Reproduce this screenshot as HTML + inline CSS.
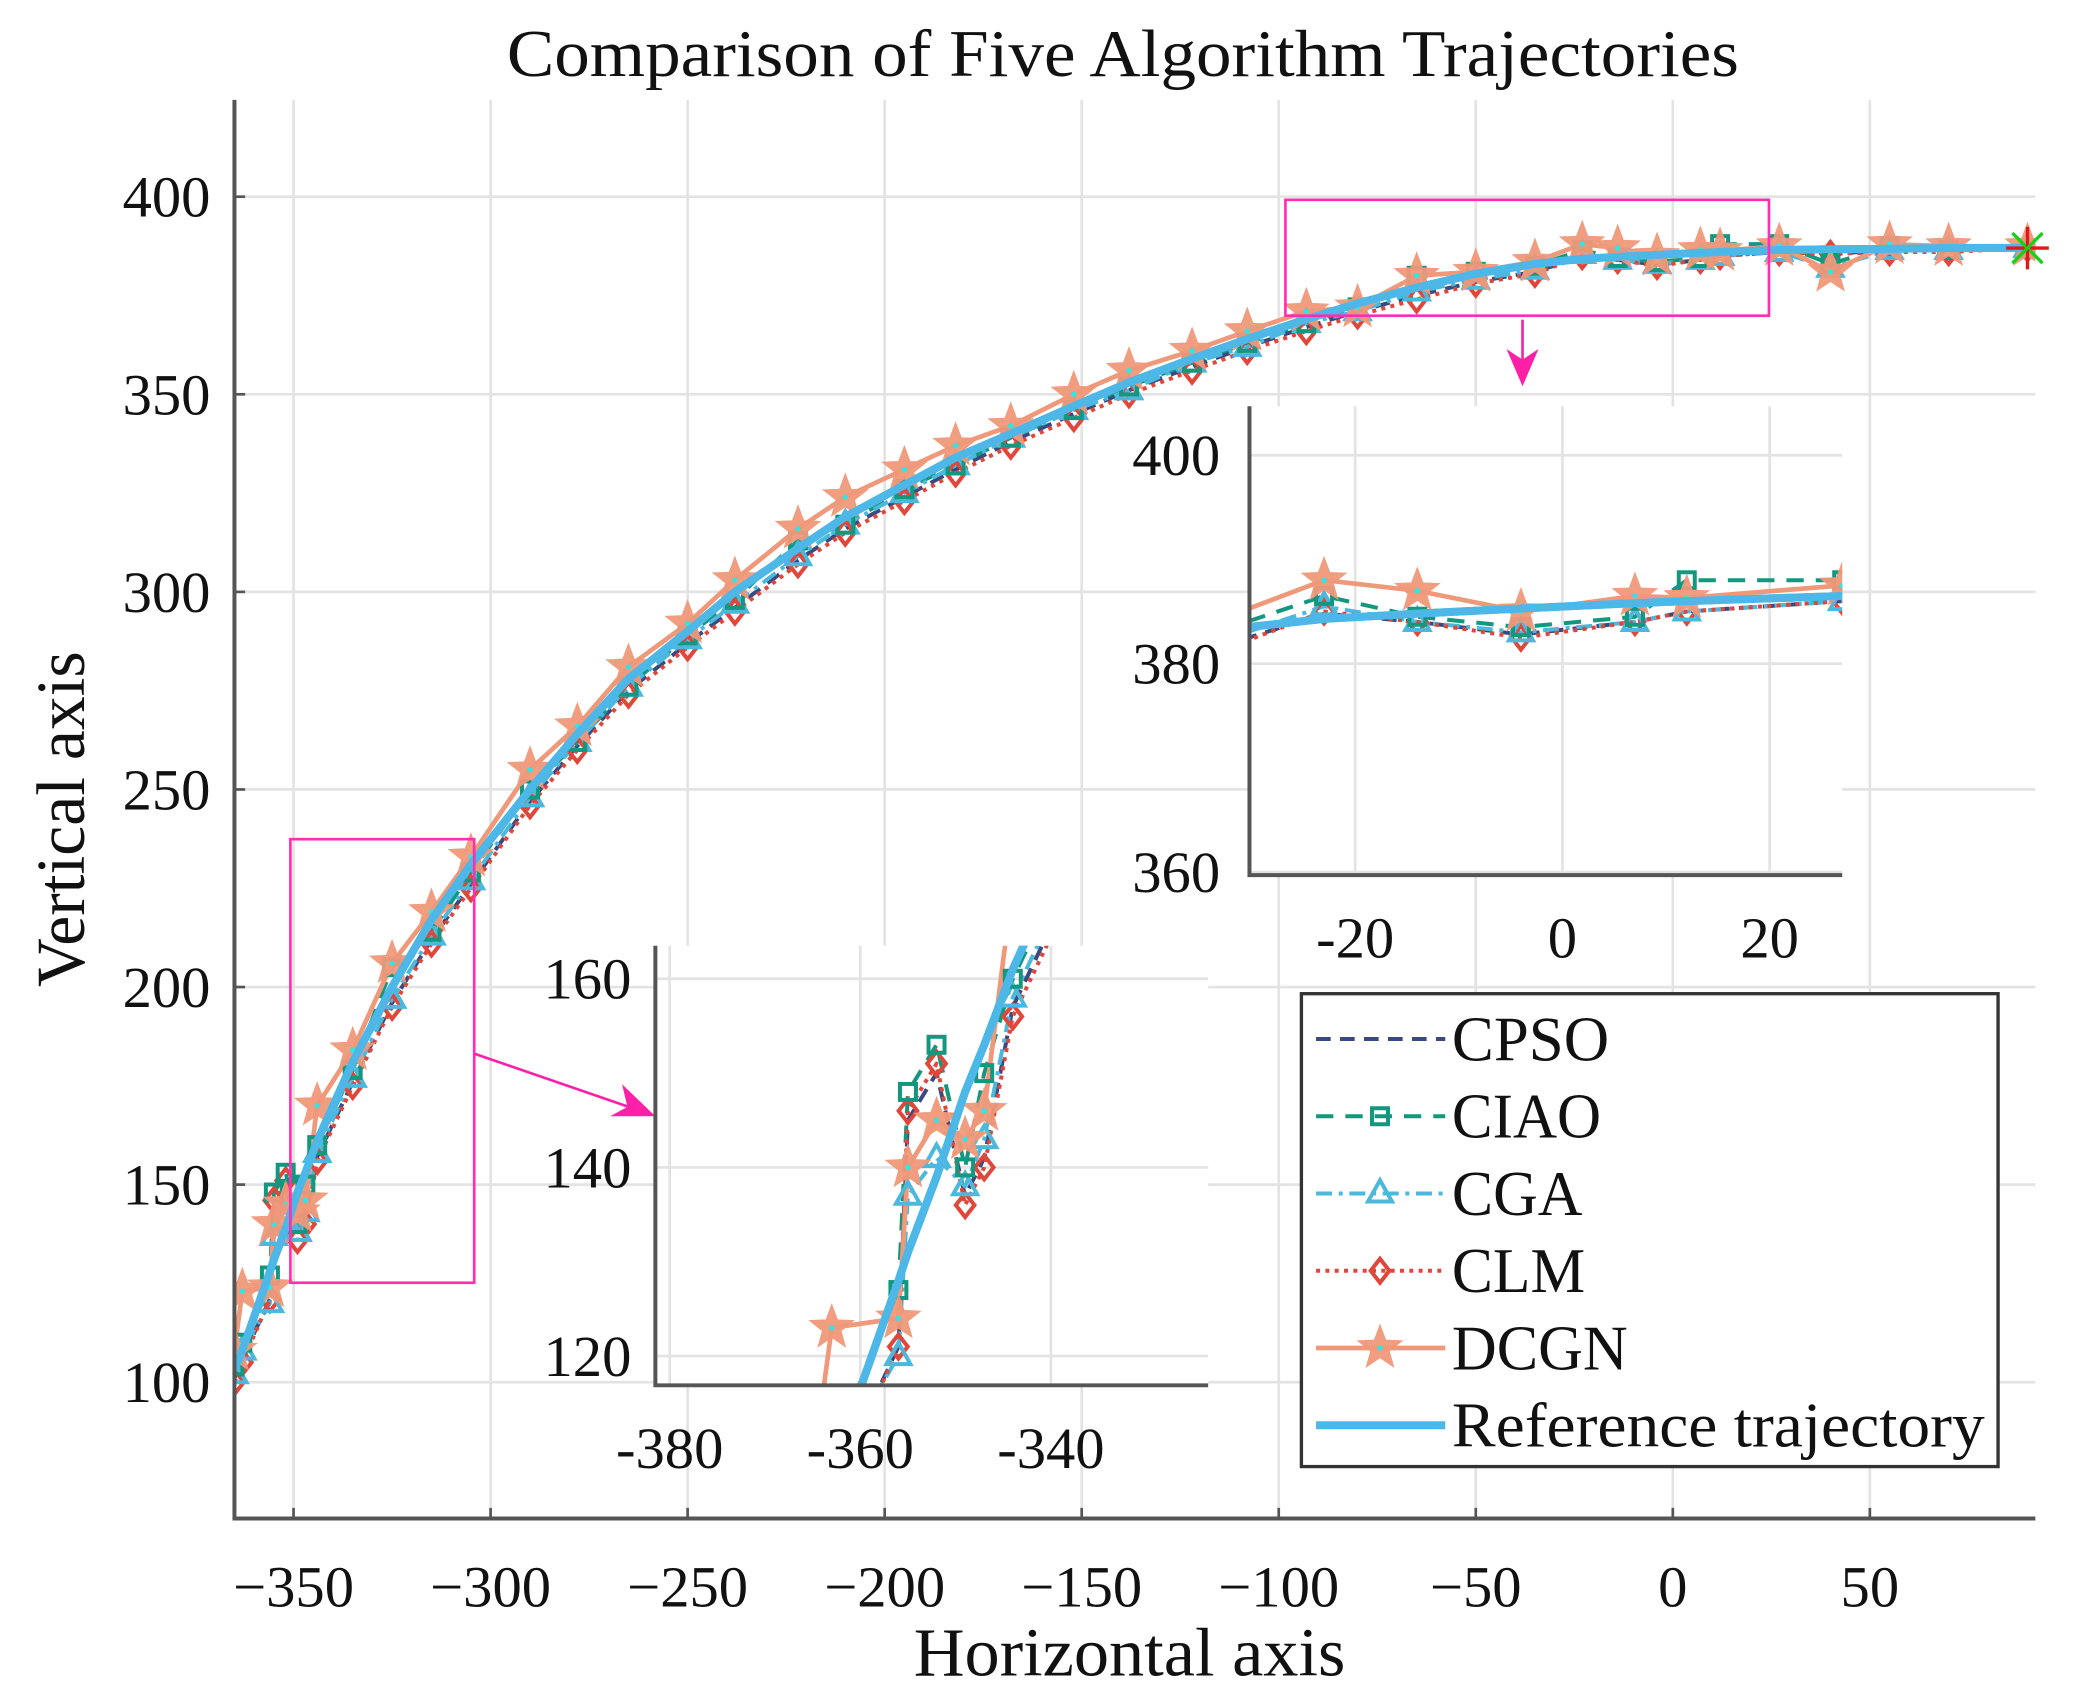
<!DOCTYPE html>
<html><head><meta charset="utf-8"><style>
html,body{margin:0;padding:0;background:#fff;overflow:hidden;width:2078px;height:1707px}
svg{display:block}
text{font-family:"Liberation Serif",serif;fill:#111}
</style></head><body>
<svg id="chart" width="2078" height="1707" viewBox="0 0 1560 1281.5" xmlns="http://www.w3.org/2000/svg">
<defs>
<clipPath id="clipMain"><rect x="176" y="75" width="1352" height="1065"/></clipPath>
<clipPath id="clipIn1"><rect x="938" y="305" width="445" height="352"/></clipPath>
<clipPath id="clipIn2"><rect x="492" y="710" width="415" height="330"/></clipPath>
</defs>
<text x="843" y="57" font-size="50" text-anchor="middle" textLength="925" lengthAdjust="spacingAndGlyphs">Comparison of Five Algorithm Trajectories</text>
<text x="848" y="1258" font-size="52" text-anchor="middle" textLength="324" lengthAdjust="spacingAndGlyphs">Horizontal axis</text>
<text x="63" y="615" font-size="52" text-anchor="middle" textLength="252" lengthAdjust="spacingAndGlyphs" transform="rotate(-90 63 615)">Vertical axis</text>
<g id="root"></g>
</svg>
<script>
const xs = [-365,-363,-356,-355,-352,-349,-347,-344,-335,-325,-315,-305,-290,-278,-265,-250,-238,-222,-210,-195,-182,-168,-152,-138,-122,-108,-93,-80,-65,-50,-35,-23,-14,-4,7,12,27,40,55,70,90];
const refY = [103,108,128,131,139,148,153,161,181,200,217,231,250,264,278,290,300,311,319,327,334,340,347,353,359,364,369,373,377,380.5,383,384.3,384.8,385.3,385.8,386,386.5,386.7,386.8,387,387];
const cpsoY = [101,106,121,145,150,137,141,157,176,196,212,226,247,261,275,287,296,308,316,324,331,338,345,351,357,362,367,371,375,378.5,381,384.8,384,382.8,384,385,386,385.5,386.5,386.5,387];
const ciaoY = [104,110,127,148,153,140,150,160,179,205,214,229,250,262,276,289,298,313,317,326,332,339,346,352,358,363,368,372,380,381,382.5,386.5,384.5,383.5,384.5,388,388,383,387.5,386.5,387];
const cgaY = [102,108,120,137,141,138,143,158,177,197,213,227,248,262,276,288,297,309,317,325,332,339,346,351,358,362,368,371,376,379,381.5,385.5,384,383,384,385,386,382,386.5,386.5,387];
const clmY = [100,105,121,146,151,136,140,156,175,195,211,225,246,260,274,286,295,307,315,323,330,337,344,350,356,361,366,370,374,378,380.5,385,384,382.5,384,385,386,385.5,386,386,387];
const dcgnY = [108,123,124,140,145,143,146,170,184,206,219,233,255,266,281,292,303,316,324,331,337,342,350,356,361,366,371,372,380,381,383.5,388,387,385,386.5,386.3,387.5,381,388,387.5,387.5];
const xTicks = [-350,-300,-250,-200,-150,-100,-50,0,50];
const yTicks = [100,150,200,250,300,350,400];
const in1XTicks = [-20,0,20];
const in1YTicks = [360,380,400];
const in2XTicks = [-380,-360,-340];
const in2YTicks = [120,140,160];
const seriesNames = ["CPSO","CIAO","CGA","CLM","DCGN","Reference trajectory"];

const NS="http://www.w3.org/2000/svg";
const root=document.getElementById('root');
function mk(tag,attrs,parent){const e=document.createElementNS(NS,tag);for(const k in attrs)e.setAttribute(k,attrs[k]);(parent||root).appendChild(e);return e;}
function axis(d0,d1,p0,p1){return v=>p0+(v-d0)/(d1-d0)*(p1-p0);}

const styles=[
 {c:"#3a4a80",w:3,dash:"11 7",m:"none",ys:cpsoY},
 {c:"#13977f",w:3,dash:"13 9",m:"square",ys:ciaoY},
 {c:"#4cb8db",w:3,dash:"12 5 3 5",m:"tri",ys:cgaY},
 {c:"#e0463a",w:3,dash:"3 4",m:"diamond",ys:clmY},
 {c:"#f0987a",w:3.5,dash:"",m:"star",ys:dcgnY},
 {c:"#4db8e8",w:6,dash:"",m:"none",ys:refY}
];
function starPts(cx,cy,R){let p=[];for(let i=0;i<10;i++){const r=i%2?R*0.42:R;const a=-Math.PI/2+i*Math.PI/5;p.push((cx+r*Math.cos(a)).toFixed(1)+","+(cy+r*Math.sin(a)).toFixed(1));}return p.join(" ");}
function marker(g,type,cx,cy,col){
 if(type==="square"){const e=mk('rect',{x:cx-6,y:cy-6,width:12,height:12,fill:"none",stroke:col,"stroke-width":3},g);}
 else if(type==="tri"){const e=mk('polygon',{points:`${cx},${cy-10} ${cx-9},${cy+6} ${cx+9},${cy+6}`,fill:"none",stroke:col,"stroke-width":3},g);}
 else if(type==="diamond"){const e=mk('polygon',{points:`${cx},${cy-9} ${cx-7},${cy} ${cx},${cy+9} ${cx+7},${cy}`,fill:"none",stroke:col,"stroke-width":3},g);}
 else if(type==="star"){const e=mk('polygon',{points:starPts(cx,cy,17),fill:col,stroke:col,"stroke-width":1,opacity:0.95},g);
   const d=mk('circle',{cx:cx,cy:cy,r:2,fill:"#2ee6e6"},g);}
}
function drawSeries(g,X,Y,clip,name){
 const grp=mk('g',{"clip-path":`url(#${clip})`},g);
 
 
 styles.forEach((s,si)=>{
  const d=xs.map((x,i)=>(i?"L":"M")+X(x).toFixed(1)+","+Y(s.ys[i]).toFixed(1)).join(" ");
  const p=mk('path',{d:d,fill:"none",stroke:s.c,"stroke-width":s.w,"stroke-dasharray":s.dash,"stroke-linejoin":"round"},grp);
  
  
 });
 [3,2,1,4].forEach(si=>{const s=styles[si];xs.forEach((x,i)=>marker(grp,s.m,X(x),Y(s.ys[i]),s.c));});
 const s=styles[5];
 const d=xs.map((x,i)=>(i?"L":"M")+X(x).toFixed(1)+","+Y(s.ys[i]).toFixed(1)).join(" ");
 const p=mk('path',{d:d,fill:"none",stroke:s.c,"stroke-width":s.w,"stroke-linejoin":"round"},grp);
 
 
}

const X=axis(-365,92,176,1528), Y=axis(65.5,424.5,1140,75);
const gridG=mk('g',{});


xTicks.forEach(t=>{const l=mk('line',{x1:X(t),x2:X(t),y1:75,y2:1140,stroke:"#e3e3e3","stroke-width":2},gridG);});
yTicks.forEach(t=>{const l=mk('line',{x1:176,x2:1528,y1:Y(t),y2:Y(t),stroke:"#e3e3e3","stroke-width":2},gridG);});
xTicks.forEach(t=>{const e=mk('text',{x:X(t),y:1206,"font-size":44,"text-anchor":"middle"});e.textContent=(t<0?"\u2212":"")+Math.abs(t);
 const k=mk('line',{x1:X(t),x2:X(t),y1:1140,y2:1132,stroke:"#555","stroke-width":2});});
yTicks.forEach(t=>{const e=mk('text',{x:158,y:Y(t)+15,"font-size":44,"text-anchor":"end"});e.textContent=t;
 const k=mk('line',{x1:176,x2:184,y1:Y(t),y2:Y(t),stroke:"#555","stroke-width":2});});
drawSeries(root,X,Y,"clipMain","main");
const em=mk('g',{});


[[0,"#e01818"],[45,"#18d018"],[90,"#e01818"],[135,"#18d018"]].forEach(([a,c])=>{const r=a*Math.PI/180;mk('line',{x1:X(90)-16*Math.cos(r),y1:Y(387)-16*Math.sin(r),x2:X(90)+16*Math.cos(r),y2:Y(387)+16*Math.sin(r),stroke:c,"stroke-width":2.5},em);});
const ax=mk('path',{d:"M176,75 L176,1140 L1528,1140",fill:"none",stroke:"#555","stroke-width":3});



const zb1=mk('rect',{x:965,y:150,width:363,height:87,fill:"none",stroke:"#ff30b0","stroke-width":2});


const zb2=mk('rect',{x:218,y:630,width:138,height:333,fill:"none",stroke:"#ff30b0","stroke-width":2});


const ar1=mk('g',{});


mk('line',{x1:1143,y1:240,x2:1143,y2:280,stroke:"#ff20a8","stroke-width":2},ar1);
mk('polygon',{points:"1131,262 1143,290 1155,262 1143,270",fill:"#ff20a8"},ar1);
const ar2=mk('g',{});


mk('line',{x1:356,y1:791,x2:475,y2:832,stroke:"#ff20a8","stroke-width":2},ar2);
mk('polygon',{points:"467,814 492,838 458,838 471,831",fill:"#ff20a8"},ar2);

function inset(name,box,xd,yd,xt,yt,clip,ylabx){
 const g=mk('g',{});
 
 
 const bg=mk('rect',{x:box[0],y:box[1],width:box[2]-box[0],height:box[3]-box[1],fill:"#fff"},g);
 
 
 const IX=axis(xd[0],xd[1],box[0],box[2]), IY=axis(yd[0],yd[1],box[3],box[1]);
 xt.forEach(t=>{const l=mk('line',{x1:IX(t),x2:IX(t),y1:box[1],y2:box[3],stroke:"#e3e3e3","stroke-width":2},g);
  const e=mk('text',{x:IX(t),y:box[3]+62,"font-size":44,"text-anchor":"middle"},g);e.textContent=t;});
 yt.forEach(t=>{const l=mk('line',{x1:box[0],x2:box[2],y1:IY(t),y2:IY(t),stroke:"#e3e3e3","stroke-width":2},g);
  const e=mk('text',{x:ylabx,y:IY(t)+15,"font-size":44,"text-anchor":"end"},g);e.textContent=t;});
 drawSeries(g,IX,IY,clip,name);
 const a=mk('path',{d:`M${box[0]},${box[1]} L${box[0]},${box[3]} L${box[2]},${box[3]}`,fill:"none",stroke:"#555","stroke-width":3},g);
 
 
}
inset('inset-top',[938,305,1383,657],[-30.2,27],[359.7,404.7],in1XTicks,in1YTicks,"clipIn1",916);
inset('inset-bottom',[492,710,907,1040],[-381.5,-323.5],[116.9,163.5],in2XTicks,in2YTicks,"clipIn2",474);

const lg=mk('g',{});


const lb=mk('rect',{x:977,y:746,width:523,height:355,fill:"#fff",stroke:"#333","stroke-width":2.5},lg);


const legW=[118,112,98,100,132,400];
seriesNames.forEach((n,i)=>{
 const s=styles[i];const y=780+i*58;
 const e=mk('g',{},lg);
 
 
 mk('line',{x1:988,x2:1085,y1:y,y2:y,stroke:s.c,"stroke-width":s.w,"stroke-dasharray":s.dash},e);
 if(s.m!=="none")marker(e,s.m,1036,y,s.c);
 const t=mk('text',{x:1090,y:y+16,"font-size":48,textLength:legW[i],lengthAdjust:"spacingAndGlyphs"},e);t.textContent=n;
});
</script>
</body></html>
